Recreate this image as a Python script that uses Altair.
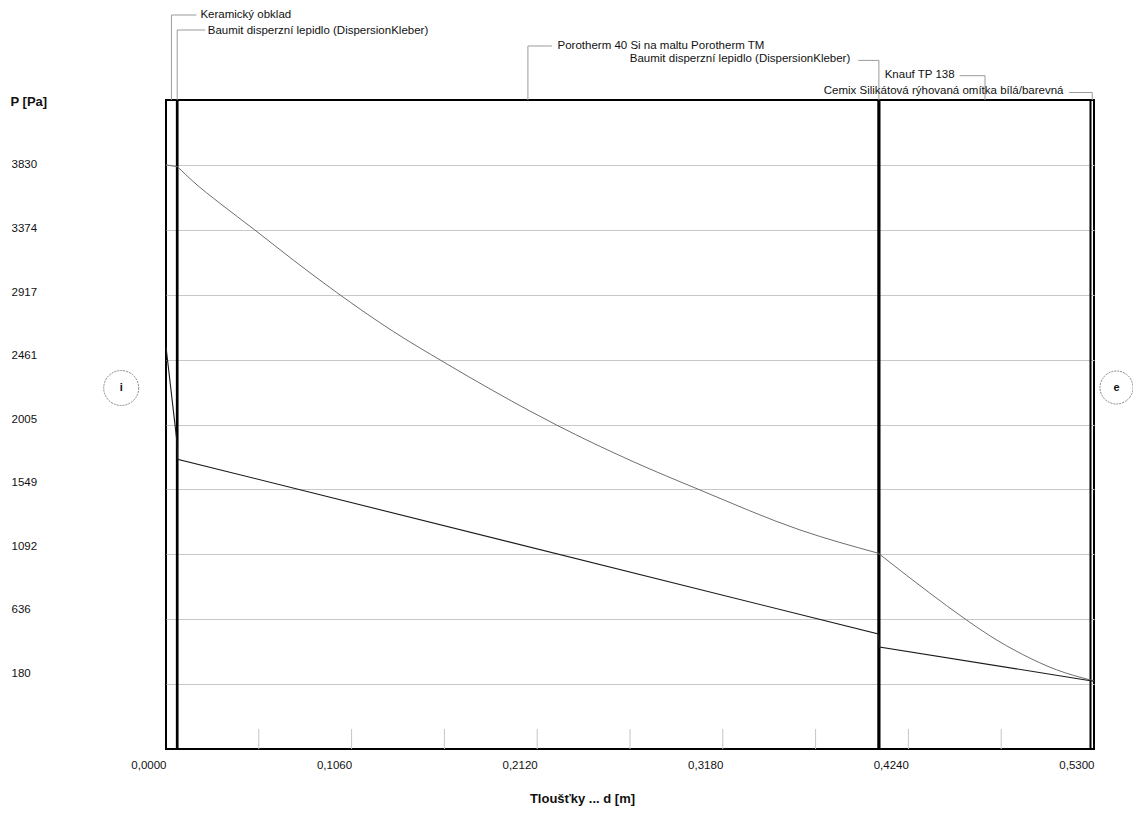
import altair as alt
import pandas as pd

# ---------------- data ----------------
layer_names = [
    "Keramický obklad",
    "Baumit disperzní lepidlo (DispersionKleber)",
    "Porotherm 40 Si na maltu Porotherm TM",
    "Baumit disperzní lepidlo (DispersionKleber)",
    "Knauf TP 138",
    "Cemix Silikátová rýhovaná omítka bílá/barevná",
]
layer_bounds = [0.0, 0.0062, 0.0066, 0.4068, 0.4075, 0.5280, 0.5300]

x_ticks = [0.0, 0.106, 0.212, 0.318, 0.424, 0.530]
x_minor_ticks = [0.053, 0.106, 0.159, 0.212, 0.265, 0.318, 0.371, 0.424, 0.477]
y_ticks = [180, 636, 1092, 1549, 2005, 2461, 2917, 3374, 3830]

# saturated vapour pressure (upper, grey)
psat_x = [0.0, 0.0066, 0.0156, 0.0308, 0.0508, 0.0727, 0.0975, 0.1298, 0.1583,
          0.1869, 0.2078, 0.2231, 0.2668, 0.3049, 0.3620, 0.4068, 0.4229, 0.4362,
          0.4552, 0.4705, 0.4893, 0.5085, 0.5280, 0.5300]
psat_p = [3830, 3817, 3712, 3560, 3372, 3161, 2933, 2659, 2446,
          2242, 2100, 2001, 1744, 1545, 1264, 1100, 945, 820,
          648, 520, 388, 281, 209, 205]

# partial vapour pressure (lower, dark)
p_x = [0.0, 0.0062, 0.0066, 0.4068, 0.4075, 0.5280, 0.5300]
p_p = [2552, 1890, 1761, 532, 441, 204, 200]

side_labels = ["i", "e"]

# ---------------- layout / style ----------------
W, H = 928, 649
FONT = "Liberation Sans"
TXT = "#111111"
LEAD = "#9a9a9a"

step = (y_ticks[-1] - y_ticks[0]) / (len(y_ticks) - 1)
xs = alt.Scale(domain=[x_ticks[0], x_ticks[-1]], nice=False, zero=False)
ys = alt.Scale(domain=[y_ticks[0] - step, y_ticks[-1] + step], nice=False, zero=False)

label_offset = {
    "condition": [
        {"test": f"datum.value == {v}", "value": round(-1.36 * k, 1)}
        for k, v in enumerate(reversed(y_ticks))
    ],
    "value": 0,
}

x_axis = alt.Axis(
    values=x_ticks, labelExpr="replace(format(datum.value, '.4f'), '.', ',')",
    labelAlign="right", labelBaseline="top", labelPadding=10, labelFlush=False,
    labelFont=FONT, labelFontSize=11.5, labelColor=TXT,
    ticks=False, domain=False, grid=False,
    title="Tloušťky ... d [m]", titleFont=FONT, titleFontSize=13, titleFontWeight="bold",
    titleColor=TXT, titleX=416, titleY=49, titleAlign="center", titleBaseline="middle",
)
y_axis = alt.Axis(
    values=y_ticks, format="d", labelAlign="left", labelBaseline="middle", labelPadding=155,
    labelOffset=label_offset,
    labelFont=FONT, labelFontSize=11.5, labelColor=TXT,
    ticks=False, domain=False, grid=True, gridColor="#c8c8c8", gridWidth=1,
    title="P [Pa]", titleFont=FONT, titleFontSize=13, titleFontWeight="bold", titleColor=TXT,
    titleAngle=0, titleX=-156, titleY=1, titleAlign="left", titleBaseline="middle",
)

def X(field):
    return alt.X(f"{field}:Q", scale=xs, axis=x_axis)

# split the saturated-pressure curve at the layer-boundary kinks (shared end points)
kinks = [i for i, xv in enumerate(psat_x)
         if any(abs(xv - b) < 1e-3 for b in layer_bounds[1:-1])]
cuts = [0] + kinks + [len(psat_x) - 1]
rows = []
for s in range(len(cuts) - 1):
    for i in range(cuts[s], cuts[s + 1] + 1):
        rows.append({"x": psat_x[i], "p": psat_p[i], "seg": s})
psat_df = pd.DataFrame(rows)
p_df = pd.DataFrame({"x": p_x, "p": p_p})

upper = alt.Chart(psat_df).mark_line(color="#6e6e6e", strokeWidth=1, interpolate="monotone").encode(
    x=X("x"), y=alt.Y("p:Q", scale=ys, axis=y_axis), detail="seg:N")
lower = alt.Chart(p_df).mark_line(color="#1a1a1a", strokeWidth=1.1).encode(
    x=X("x"), y=alt.Y("p:Q", scale=ys, axis=y_axis))

minor = alt.Chart(pd.DataFrame({"x": x_minor_ticks})).mark_rule(
    color="#c4c4c4", strokeWidth=1).encode(x=X("x"), y=alt.value(H), y2=alt.value(H - 20))

bounds = alt.Chart(pd.DataFrame({"x": layer_bounds[1:-1]})).mark_rule(
    color="#000000", strokeWidth=2).encode(x=X("x"), y=alt.value(0), y2=alt.value(H))

# annotations: (leader y, horizontal leader length, text dx, text y, align)
ANN_STYLE = [
    (-85, 25, 29, -85, "left"),
    (-70, 28, 30.5, -69, "left"),
    (-54, 24, 29.6, -54.5, "left"),
    (-39.6, -20.7, -28.6, -40.7, "right"),
    (-24.3, -25.4, -30.4, -25.4, "right"),
    (-7.5, -23.2, -28.8, -8.6, "right"),
]
mids = [(layer_bounds[i] + layer_bounds[i + 1]) / 2 for i in range(len(layer_names))]
ann_df = pd.DataFrame({"name": layer_names, "mid": mids, "idx": list(range(len(layer_names)))})

ann_layers = []
for i, (ly, hl, tdx, ty, al) in enumerate(ANN_STYLE):
    base = alt.Chart(ann_df).transform_filter(f"datum.idx == {i}")
    ann_layers.append(base.mark_rule(color=LEAD, strokeWidth=1).encode(
        x=X("mid"), y=alt.value(ly), y2=alt.value(0)))
    ann_layers.append(base.mark_rule(color=LEAD, strokeWidth=1, x2Offset=hl).encode(
        x=X("mid"), x2="mid:Q", y=alt.value(ly)))
    ann_layers.append(base.mark_text(align=al, baseline="middle", dx=tdx, font=FONT,
                                     fontSize=11.5, color=TXT).encode(
        x=X("mid"), y=alt.value(ty), text="name:N"))

side_df = pd.DataFrame({"s": side_labels})
side_pos = [(-44.8, 288, 1225), (950.5, 287.5, 1089)]
side_layers = []
for s, (px, py, sz) in zip(side_labels, side_pos):
    b = alt.Chart(side_df).transform_filter(f"datum.s == '{s}'")
    side_layers.append(b.mark_point(shape="circle", size=sz, filled=False, stroke="#555555",
                                    strokeWidth=1, strokeDash=[2, 1]).encode(
        x=alt.value(px), y=alt.value(py)))
    side_layers.append(b.mark_text(font=FONT, fontSize=11, fontWeight="bold", color=TXT,
                                   baseline="middle", align="center").encode(
        x=alt.value(px), y=alt.value(py), text="s:N"))

chart = alt.layer(minor, bounds, upper, lower, *ann_layers, *side_layers).properties(
    width=W, height=H,
    padding={"left": 158, "top": 92, "right": 39, "bottom": 59},
    autosize=alt.AutoSizeParams(type="none"),
    background="white",
).configure_view(stroke="#000000", strokeWidth=2)

chart.save("out.html", embed_options={"renderer": "svg", "actions": False})
